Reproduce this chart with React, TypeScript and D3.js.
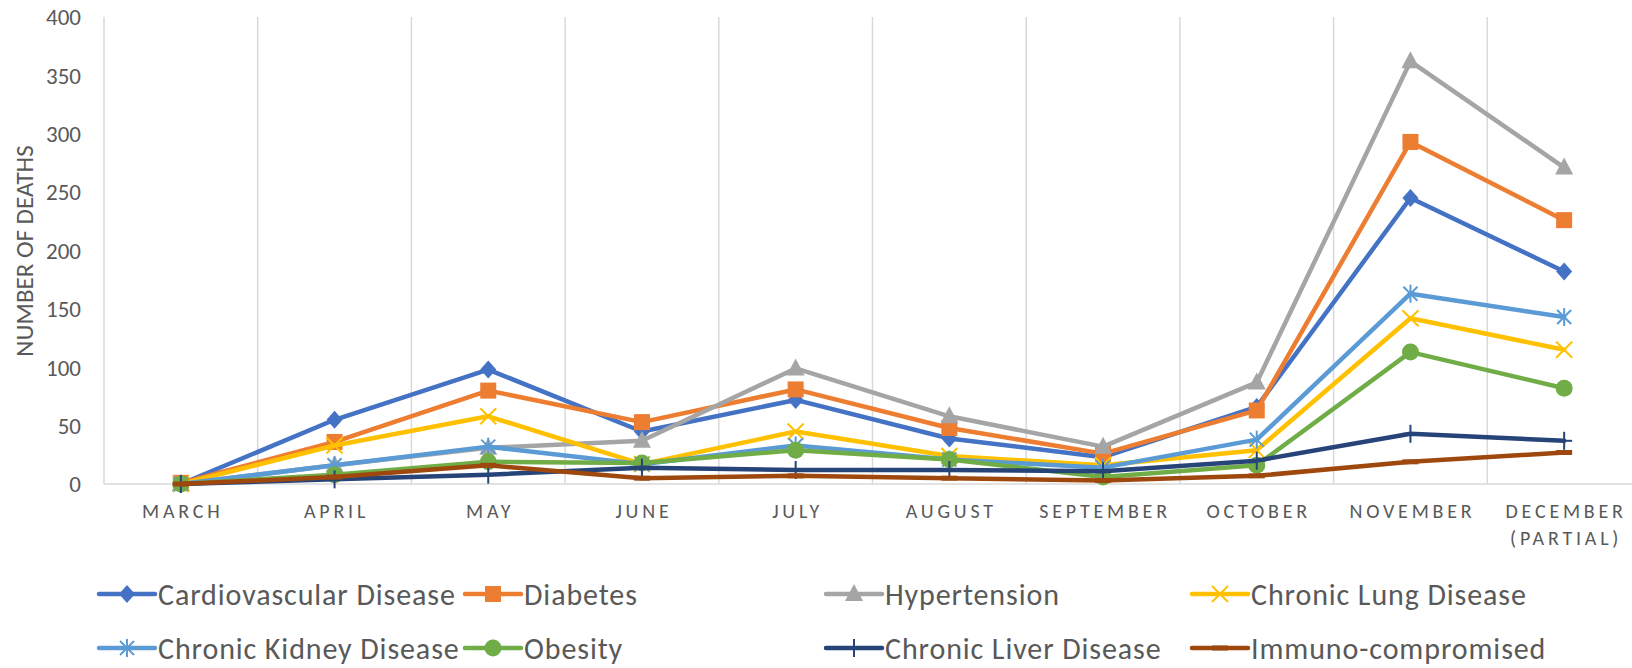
import React from "react";
import * as d3 from "d3";

const months = ["MARCH", "APRIL", "MAY", "JUNE", "JULY", "AUGUST", "SEPTEMBER", "OCTOBER", "NOVEMBER", "DECEMBER\n(PARTIAL)"];
const yTicks = [0, 50, 100, 150, 200, 250, 300, 350, 400];

const cardio = [0, 55, 98, 45, 72, 39, 23, 66, 245, 182];
const diabetes = [1, 36, 80, 53, 81, 48, 26, 63, 293, 226];
const hypertension = [0, 16, 31, 37, 99, 58, 32, 87, 362, 271];
const lung = [0, 33, 58, 17, 45, 24, 16, 29, 142, 115];
const kidney = [0, 16, 32, 17, 33, 21, 14, 38, 163, 143];
const obesity = [0, 8, 19, 18, 29, 21, 6, 16, 113, 82];
const liver = [0, 4, 8, 14, 12, 12, 11, 20, 43, 37];
const immuno = [0, 6, 16, 5, 7, 5, 3, 7, 19, 27];

const seriesNames = [
  "Cardiovascular Disease", "Diabetes", "Hypertension", "Chronic Lung Disease",
  "Chronic Kidney Disease", "Obesity", "Chronic Liver Disease", "Immuno-compromised",
];
const seriesColors = ["#4472C4", "#ED7D31", "#A5A5A5", "#FFC000", "#5B9BD5", "#70AD47", "#264478", "#9E480E"];
const seriesMarkers = ["diamond", "square", "triangle", "x", "asterisk", "circle", "plus", "dash"];
const seriesValues = [cardio, diabetes, hypertension, lung, kidney, obesity, liver, immuno];

const W = 1632, H = 668;
const plotLeft = 104, plotRight = 1641, plotTop = 17, plotBottom = 484;
const FONT = "Carlito, Calibri, Lato, 'Liberation Sans', sans-serif";
const TXT = "#595959";

function Marker({ type, x, y, color }: { type: string; x: number; y: number; color: string }) {
  const t = `translate(${x},${y})`;
  switch (type) {
    case "diamond":
      return <path transform={t} d="M0,-9L8,0L0,9L-8,0Z" fill={color} />;
    case "square":
      return <rect x={x - 8} y={y - 8} width={16} height={16} fill={color} />;
    case "triangle":
      return <path transform={t} d="M0,-10L9,7L-9,7Z" fill={color} />;
    case "x":
      return (
        <g transform={t} stroke={color} strokeWidth={2}>
          <line x1={-8} y1={-8} x2={8} y2={8} />
          <line x1={-8} y1={8} x2={8} y2={-8} />
        </g>
      );
    case "asterisk":
      return (
        <g transform={t} stroke={color} strokeWidth={2}>
          <line x1={-7} y1={-7} x2={7} y2={7} />
          <line x1={-7} y1={7} x2={7} y2={-7} />
          <line x1={0} y1={-9} x2={0} y2={9} />
        </g>
      );
    case "circle":
      return <circle cx={x} cy={y} r={8.5} fill={color} />;
    case "plus":
      return (
        <g transform={t} stroke={color} strokeWidth={2}>
          <line x1={-8} y1={0} x2={8} y2={0} />
          <line x1={0} y1={-9} x2={0} y2={9} />
        </g>
      );
    case "dash":
      return <rect x={x - 8} y={y - 2.5} width={16} height={5} fill={color} />;
    default:
      return null;
  }
}

export default function App() {
  const x = d3.scaleBand<string>().domain(months).range([plotLeft, plotRight]).paddingInner(0).paddingOuter(0);
  const y = d3.scaleLinear().domain([0, 400]).range([plotBottom, plotTop]);
  const cx = (m: string) => (x(m) as number) + x.bandwidth() / 2;
  const line = d3.line<number>().x((_, i) => cx(months[i])).y((d) => y(d));

  const gridXs = months.map((m) => x(m) as number).concat([plotRight]);

  const legendCols = [99, 465, 826, 1192];
  const legendRows = [594, 648];

  return (
    <svg width={W} height={H} style={{ position: "absolute", left: 0, top: 0, background: "#fff" }} fontFamily={FONT}>
      <rect x={0} y={0} width={W} height={H} fill="#fff" />
      {/* vertical gridlines */}
      {gridXs.map((gx, i) => (
        <line key={i} x1={gx} x2={gx} y1={plotTop} y2={plotBottom} stroke="#D9D9D9" strokeWidth={1.5} />
      ))}
      <line x1={plotLeft} x2={plotRight} y1={plotBottom} y2={plotBottom} stroke="#D9D9D9" strokeWidth={1.5} />

      {/* y ticks */}
      {yTicks.map((t) => (
        <text key={t} x={81} y={y(t)} dy="0.36em" textAnchor="end" fontSize={23} fill={TXT}>
          {t}
        </text>
      ))}
      <text transform={`translate(24,251) rotate(-90)`} textAnchor="middle" dy="0.35em" fontSize={25} fill={TXT}>
        NUMBER OF DEATHS
      </text>

      {/* x labels */}
      {months.map((m) => {
        const lines = m.split("\n");
        return (
          <text key={m} x={cx(m)} y={518} textAnchor="middle" fontSize={20} letterSpacing={3.8} fill={TXT}>
            {lines.map((l, i) => (
              <tspan key={i} x={cx(m) + 2} dy={i === 0 ? 0 : 27}>
                {l}
              </tspan>
            ))}
          </text>
        );
      })}

      {/* series */}
      {seriesValues.map((vals, si) => (
        <g key={si}>
          <path d={line(vals) || ""} fill="none" stroke={seriesColors[si]} strokeWidth={4.5} strokeLinejoin="round" strokeLinecap="round" />
          {vals.map((v, i) => (
            <Marker key={i} type={seriesMarkers[si]} x={cx(months[i])} y={y(v)} color={seriesColors[si]} />
          ))}
        </g>
      ))}

      {/* legend */}
      {seriesNames.map((name, si) => {
        const col = si % 4;
        const row = Math.floor(si / 4);
        const lx = legendCols[col];
        const ly = legendRows[row];
        return (
          <g key={name}>
            <line x1={lx} x2={lx + 56} y1={ly} y2={ly} stroke={seriesColors[si]} strokeWidth={4.5} strokeLinecap="round" />
            <Marker type={seriesMarkers[si]} x={lx + 28} y={ly} color={seriesColors[si]} />
            <text x={lx + 59} y={ly} dy="0.35em" fontSize={30} letterSpacing={0.9} fill={TXT}>
              {name}
            </text>
          </g>
        );
      })}
    </svg>
  );
}
